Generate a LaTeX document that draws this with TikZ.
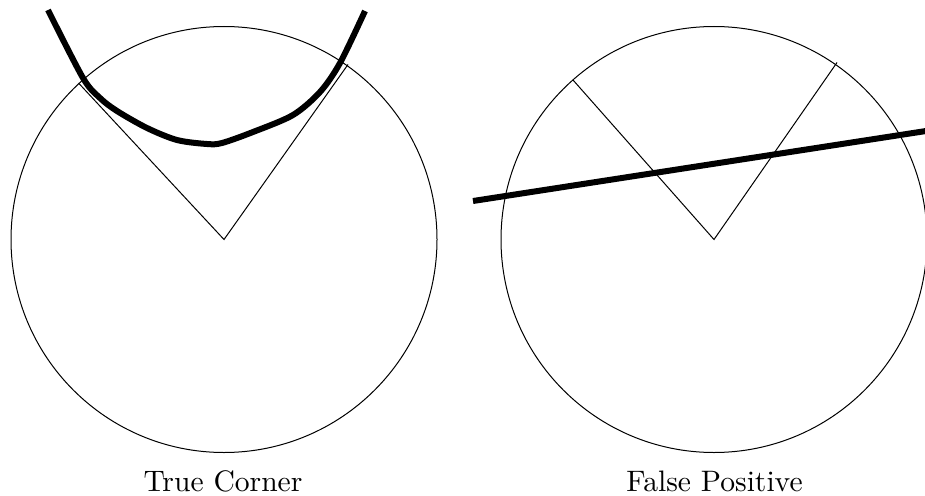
\documentclass[tikz,border=0pt]{standalone}
\usepackage{fontspec}
\newfontfamily\capfont{lmroman10-regular.otf}
\usetikzlibrary{calc}
\tikzset{
  thin line/.style={line width=1pt, black},
  thick line/.style={line width=6pt, black},
  caption/.style={anchor=base, inner sep=0pt, font=\capfont\fontsize{29.6}{34}\selectfont}
}
\begin{document}
\begin{tikzpicture}[x=1pt,y=-1pt]
\useasboundingbox (0,0) rectangle (925,495);
\begin{scope}
\clip (0,0) rectangle (925,495);
% left: true corner
\coordinate (cL) at (224,239.5);
\draw[thin line] (cL) circle[radius=213];
\coordinate (aL) at ($(cL)+(-145.5,-156.5)$);
\coordinate (bL) at ($(cL)+(124,-175)$);
\draw[thin line] (aL) -- (cL) -- (bL);
\draw[thick line] plot[smooth, tension=0.5] coordinates {(48,10) (83,78) (100,98) (117,111) (147,128) (177,140) (207,144) (222,143) (253,132) (293,115) (320,92) (340,63) (365,11)};
% right: false positive
\coordinate (cR) at (714,239.5);
\draw[thin line] (cR) circle[radius=213];
\coordinate (aR) at (573,80);
\coordinate (bR) at (837,62.5);
\draw[thin line] (aR) -- (cR) -- (bR);
\coordinate (pA) at (473,201);
\coordinate (pB) at (926,131);
\draw[thick line] (pA) -- (pB);
\end{scope}
\node[caption] (capL) at (223,491.5) {True Corner};
\node[caption] (capR) at (714.5,491.5) {False Positive};
\end{tikzpicture}
\end{document}
